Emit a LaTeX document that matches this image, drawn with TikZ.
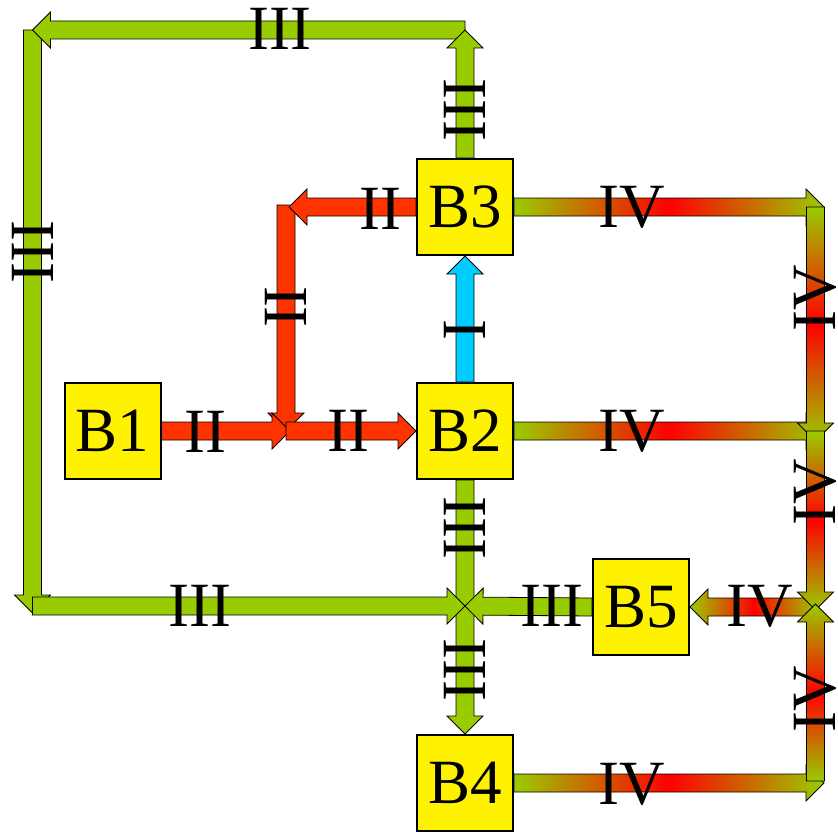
\documentclass[tikz,border=0pt]{standalone}
\usepackage{fontspec}
\setmainfont{Liberation Serif}
\usepackage{xcolor}
\usepackage{tikz}
\usetikzlibrary{calc}

\definecolor{limeIII}{HTML}{99CC00}
\definecolor{redII}{HTML}{FF3300}
\definecolor{cyanI}{HTML}{00CCFF}
\definecolor{redIV}{HTML}{FF0000}

% block arrow from #2 to the tip #3
\newcommand{\flowarrow}[3][]{%
  \coordinate (hb) at ($(#3)!18pt!(#2)$);
  \path[flow,#1] ($(#2)!9pt!90:(#3)$) -- ($(hb)!9pt!90:(#3)$) -- ($(hb)!18pt!90:(#3)$)
    -- (#3) -- ($(hb)!18pt!-90:(#3)$) -- ($(hb)!9pt!-90:(#3)$) -- ($(#2)!9pt!-90:(#3)$) -- cycle;
}

\begin{document}
\begin{tikzpicture}[x=1pt, y=-1pt, every node/.style={font=\fontsize{63}{63}\selectfont},
    box/.style={draw, line width=2pt, fill=yellow, minimum width=96pt, minimum height=96pt, inner sep=0pt},
    flow/.style={draw=black, line width=0.8pt},
    arrIII/.style={fill=limeIII},
    arrII/.style={fill=redII},
    arrI/.style={fill=cyanI},
    arrIVh/.style={left color=limeIII, right color=limeIII, middle color=redIV},
    arrIVv/.style={top color=limeIII, bottom color=limeIII, middle color=redIV},
    lbl/.style={inner sep=0pt},
    vlbl/.style={inner sep=0pt, rotate=90}]
    \useasboundingbox (0,0) rectangle (838,832);

    \node[box] (B1) at (112.5,431) {B1};
    \node[box] (B2) at (465,431) {B2};
    \node[box] (B3) at (465,207) {B3};
    \node[box] (B4) at (465,783) {B4};
    \node[box] (B5) at (641,607) {B5};

    % bends and tips
    \coordinate (topmid) at (465,30);
    \coordinate (topleft) at (32.5,30);
    \coordinate (lefttip) at (32.5,613);
    \coordinate (leftbend) at (32.5,606);
    \coordinate (cross) at (465,606);
    \coordinate (redtop) at (286,205);
    \coordinate (redtoptip) at (289,207);
    \coordinate (redbend) at (286,431);
    \coordinate (redtip) at (290,431);
    \coordinate (rtop) at (824,207);
    \coordinate (rtopv) at (815.5,207);
    \coordinate (rmidtip) at (815.5,441);
    \coordinate (rmid) at (824,431);
    \coordinate (rmidv) at (815.5,431);
    \coordinate (rfivetip) at (815.5,610);
    \coordinate (rfive) at (818,607);
    \coordinate (rbot) at (824,783);
    \coordinate (rbotv) at (815.5,781);
    \coordinate (rfiveup) at (815.5,604);

    % III
    \flowarrow[arrIII]{topleft}{lefttip}
    \flowarrow[arrIII]{topmid}{topleft}
    \flowarrow[arrIII]{B3.north}{topmid}
    \flowarrow[arrIII]{B2.south}{B4.north}
    \flowarrow[arrIII]{leftbend}{cross}
    \flowarrow[arrIII]{B5.west}{cross}

    % II
    \flowarrow[arrII]{redtop}{redbend}
    \flowarrow[arrII]{B3.west}{redtoptip}
    \flowarrow[arrII]{B1.east}{redtip}
    \flowarrow[arrII]{redbend}{B2.west}

    % I
    \flowarrow[arrI]{B2.north}{B3.south}

    % IV
    \flowarrow[arrIVh]{B3.east}{rtop}
    \flowarrow[arrIVh]{B2.east}{rmid}
    \flowarrow[arrIVh]{B4.east}{rbot}
    \flowarrow[arrIVh]{rfive}{B5.east}
    \flowarrow[arrIVv]{rtopv}{rmidtip}
    \flowarrow[arrIVv]{rmidv}{rfivetip}
    \flowarrow[arrIVv]{rbotv}{rfiveup}

    % labels
    \node[vlbl] (l1) at (465,110) {III};
    \node[lbl] (l2) at (280,29) {III};
    \node[vlbl] (l3) at (32.5,252) {III};
    \node[lbl] (l4) at (200,606) {III};
    \node[vlbl] (l5) at (465,528) {III};
    \node[vlbl] (l6) at (465,670) {III};
    \node[lbl] (l7) at (552,606) {III};
    \node[lbl] (l8) at (205,432) {II};
    \node[lbl] (l9) at (348,431) {II};
    \node[lbl] (l10) at (380,209) {II};
    \node[vlbl] (l11) at (286,307) {II};
    \node[vlbl] (l12) at (465,330) {I};
    \node[lbl] (l13) at (632,207) {IV};
    \node[vlbl] (l14) at (815.5,298) {IV};
    \node[lbl] (l15) at (632,431) {IV};
    \node[vlbl] (l16) at (815.5,492) {IV};
    \node[lbl] (l17) at (760,606) {IV};
    \node[lbl] (l18) at (632,784) {IV};
    \node[vlbl] (l19) at (815.5,699) {IV};
\end{tikzpicture}
\end{document}
